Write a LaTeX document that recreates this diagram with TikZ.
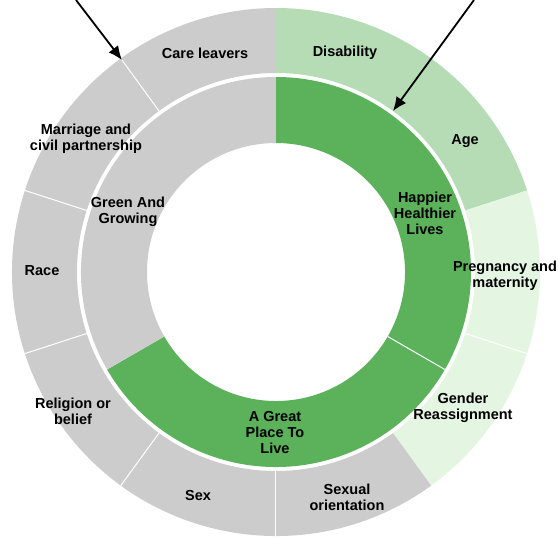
\documentclass[tikz,border=0pt]{standalone}
\usepackage{fontspec}
\setmainfont{Liberation Sans}
\usetikzlibrary{arrows.meta}

\definecolor{dkgreen}{HTML}{5BB25A}
\definecolor{midgreen}{HTML}{B5DCB5}
\definecolor{palegreen}{HTML}{E4F5E2}
\definecolor{ringgray}{HTML}{CCCCCC}

% ring piece: colour, start angle, end angle, inner radius, outer radius
\newcommand{\ringpart}[5]{\fill[#1] (#2:#4) arc[start angle=#2, end angle=#3, radius=#4] -- (#3:#5) arc[start angle=#3, end angle=#2, radius=#5] -- cycle;}

\begin{document}
\begin{tikzpicture}[x=1pt, y=1pt,
  lbl/.style={font=\fontsize{14.5}{16}\selectfont\bfseries, align=center},
  sep/.style={white, line width=1pt},
  pointer/.style={-{Latex[length=14pt,width=12pt]}, line width=1.8pt}]
\useasboundingbox (-276,-267) rectangle (282,272);

% inner ring, three themes
\ringpart{dkgreen}{-30}{90}{129}{195}
\ringpart{dkgreen}{-150}{-30}{129}{195}
\ringpart{ringgray}{90}{210}{129}{195}
\draw[sep] (-30:129) -- (-30:195);

% outer ring, ten groups of 36 degrees
\ringpart{midgreen}{18}{90}{199}{264}
\ringpart{palegreen}{-54}{18}{199}{264}
\ringpart{ringgray}{90}{306}{199}{264}
\foreach \a in {126,162,198,234,270,342}
  \draw[sep] (\a:199) -- (\a:264);

% outer labels
\node[lbl] (care) at (-71,219) {Care leavers};
\node[lbl] (disab) at (69,219) {Disability};
\node[lbl] (age) at (189,131) {Age};
\node[lbl] (preg) at (229,-4) {Pregnancy and\\maternity};
\node[lbl] (gender) at (187,-136) {Gender\\Reassignment};
\node[lbl] (sexor) at (71,-225) {Sexual\\orientation};
\node[lbl] (sex) at (-78,-224) {Sex};
\node[lbl] (relig) at (-203,-139) {Religion or\\belief};
\node[lbl] (race) at (-234,1) {Race};
\node[lbl] (marr) at (-190,133) {Marriage and\\civil partnership};

% inner labels
\node[lbl] (green) at (-148,60) {Green And\\Growing};
\node[lbl] (happy) at (149,59) {Happier\\Healthier\\Lives};
\node[lbl] (place) at (-1,-161) {A Great\\Place To\\Live};

% pointers coming in from the top
\coordinate (fromL) at (-200,272);
\coordinate (tipL) at (126:262);
\coordinate (fromR) at (198,272);
\coordinate (tipR) at (54:199);
\draw[pointer] (fromL) -- (tipL);
\draw[pointer] (fromR) -- (tipR);
\end{tikzpicture}
\end{document}
